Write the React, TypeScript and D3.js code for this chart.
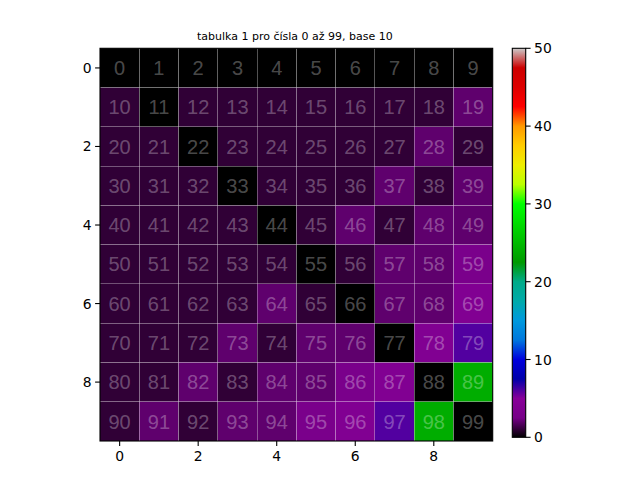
import React from "react";
import * as d3 from "d3";

// Počet kroků "otoč a sečti" do palindromu, tabulka 10x10
const rows: number[][] = [
    [0, 0, 0, 0, 0, 0, 0, 0, 0, 0],
    [1, 0, 1, 1, 1, 1, 1, 1, 1, 2],
    [1, 1, 0, 1, 1, 1, 1, 1, 2, 1],
    [1, 1, 1, 0, 1, 1, 1, 2, 1, 2],
    [1, 1, 1, 1, 0, 1, 2, 1, 2, 2],
    [1, 1, 1, 1, 1, 0, 1, 2, 2, 3],
    [1, 1, 1, 1, 2, 1, 0, 2, 2, 4],
    [1, 1, 1, 2, 1, 2, 2, 0, 4, 6],
    [1, 1, 2, 1, 2, 2, 3, 4, 0, 24],
    [1, 2, 1, 2, 2, 3, 4, 6, 24, 0],
];
const xTicks = [0, 2, 4, 6, 8];
const yTicks = [0, 2, 4, 6, 8];
const cbarTicks = [0, 10, 20, 30, 40, 50];
const title = "tabulka 1 pro čísla 0 až 99, base 10";

// nipy_spectral
const cmPos = [0, 0.05, 0.1, 0.15, 0.2, 0.25, 0.3, 0.35, 0.4, 0.45, 0.5, 0.55, 0.6, 0.65, 0.7, 0.75, 0.8, 0.85, 0.9, 0.95, 1];
const cmR = [0, 0.4667, 0.5333, 0, 0, 0, 0, 0, 0, 0, 0, 0, 0, 0.7333, 0.9333, 1, 1, 1, 0.8667, 0.8, 0.8];
const cmG = [0, 0, 0, 0, 0, 0.4667, 0.6, 0.6667, 0.6667, 0.6, 0.7333, 0.8667, 1, 1, 0.9333, 0.8, 0.6, 0, 0, 0, 0.8];
const cmB = [0, 0.5333, 0.6, 0.6667, 0.8667, 0.8667, 0.8667, 0.6667, 0.5333, 0, 0, 0, 0, 0, 0, 0, 0, 0, 0, 0, 0.8];
const nipy = d3
    .scaleLinear<string>()
    .domain(cmPos)
    .range(cmPos.map((_, i) => d3.rgb(cmR[i] * 255, cmG[i] * 255, cmB[i] * 255).toString()))
    .interpolate(d3.interpolateRgb)
    .clamp(true);

const VMIN = 0;
const VMAX = 50;

const snap = (v: number) => Math.floor(v) + 0.5;

export default function App() {
    const W = 640;
    const H = 480;
    const ax = { left: 100, top: 48.3, size: 392.7 };
    const n = rows.length;
    const x = d3.scaleLinear().domain([-0.5, n - 0.5]).range([ax.left, ax.left + ax.size]);
    const y = d3.scaleLinear().domain([-0.5, n - 0.5]).range([ax.top, ax.top + ax.size]);
    const norm = d3.scaleLinear().domain([VMIN, VMAX]).range([0, 1]);

    const cb = { left: 512.3, width: 13.4, top: 48.3, bottom: 437.3 };
    const cy = d3.scaleLinear().domain([VMIN, VMAX]).range([cb.bottom, cb.top]);
    const gradStops = d3.range(0, 101).map((i) => i / 100);

    return (
        <svg width={W} height={H} style={{ position: "absolute", left: 0, top: 0, background: "#fff" }}>
            <defs>
                <linearGradient id="cbar" x1="0" y1="1" x2="0" y2="0">
                    {gradStops.map((t) => (
                        <stop key={t} offset={`${t * 100}%`} stopColor={nipy(t)} />
                    ))}
                </linearGradient>
            </defs>

            <text x={x(4.5) - 1.5} y={39.5} textAnchor="middle" fontFamily="DejaVu Sans" fontSize={11}>
                {title}
            </text>

            {/* buňky */}
            {rows.map((row, r) =>
                row.map((v, c) => (
                    <rect
                        key={`c${r}-${c}`}
                        x={x(c - 0.5)}
                        y={y(r - 0.5)}
                        width={x(c + 0.5) - x(c - 0.5)}
                        height={y(r + 0.5) - y(r - 0.5)}
                        fill={nipy(norm(v))}
                    />
                ))
            )}

            {/* mřížka */}
            {d3.range(1, n).map((i) => (
                <g key={`g${i}`} stroke="#fff" strokeOpacity={0.27} strokeWidth={1}>
                    <line x1={snap(x(i - 0.5))} x2={snap(x(i - 0.5))} y1={ax.top} y2={ax.top + ax.size} />
                    <line y1={snap(y(i - 0.5))} y2={snap(y(i - 0.5))} x1={ax.left} x2={ax.left + ax.size} />
                </g>
            ))}

            {/* čísla */}
            {rows.map((row, r) =>
                row.map((_, c) => (
                    <text
                        key={`t${r}-${c}`}
                        x={x(c)}
                        y={y(r)}
                        dy="0.36em"
                        textAnchor="middle"
                        fontFamily="Liberation Sans"
                        fontSize={20}
                        fill="#fff"
                        fillOpacity={0.3}
                    >
                        {r * n + c}
                    </text>
                ))
            )}

            <rect x={ax.left} y={ax.top} width={ax.size} height={ax.size} fill="none" stroke="#000" strokeWidth={1.1} />

            {/* osa x */}
            {xTicks.map((t) => (
                <g key={`x${t}`} transform={`translate(${x(t)},${ax.top + ax.size})`}>
                    <line y2={4.9} stroke="#000" strokeWidth={1.1} />
                    <text y={19.5} textAnchor="middle" fontFamily="DejaVu Sans" fontSize={13.9}>
                        {t}
                    </text>
                </g>
            ))}

            {/* osa y */}
            {yTicks.map((t) => (
                <g key={`y${t}`} transform={`translate(${ax.left},${y(t)})`}>
                    <line x2={-4.9} stroke="#000" strokeWidth={1.1} />
                    <text x={-8.4} dy="0.36em" textAnchor="end" fontFamily="DejaVu Sans" fontSize={13.9}>
                        {t}
                    </text>
                </g>
            ))}

            {/* colorbar */}
            <rect x={cb.left} y={cb.top} width={cb.width} height={cb.bottom - cb.top} fill="url(#cbar)" />
            <rect x={cb.left} y={cb.top} width={cb.width} height={cb.bottom - cb.top} fill="none" stroke="#000" strokeWidth={1.1} />
            {cbarTicks.map((t) => (
                <g key={`cb${t}`} transform={`translate(${cb.left + cb.width},${cy(t)})`}>
                    <line x2={4.9} stroke="#000" strokeWidth={1.1} />
                    <text x={8.4} dy="0.36em" fontFamily="DejaVu Sans" fontSize={13.9}>
                        {t}
                    </text>
                </g>
            ))}
        </svg>
    );
}
